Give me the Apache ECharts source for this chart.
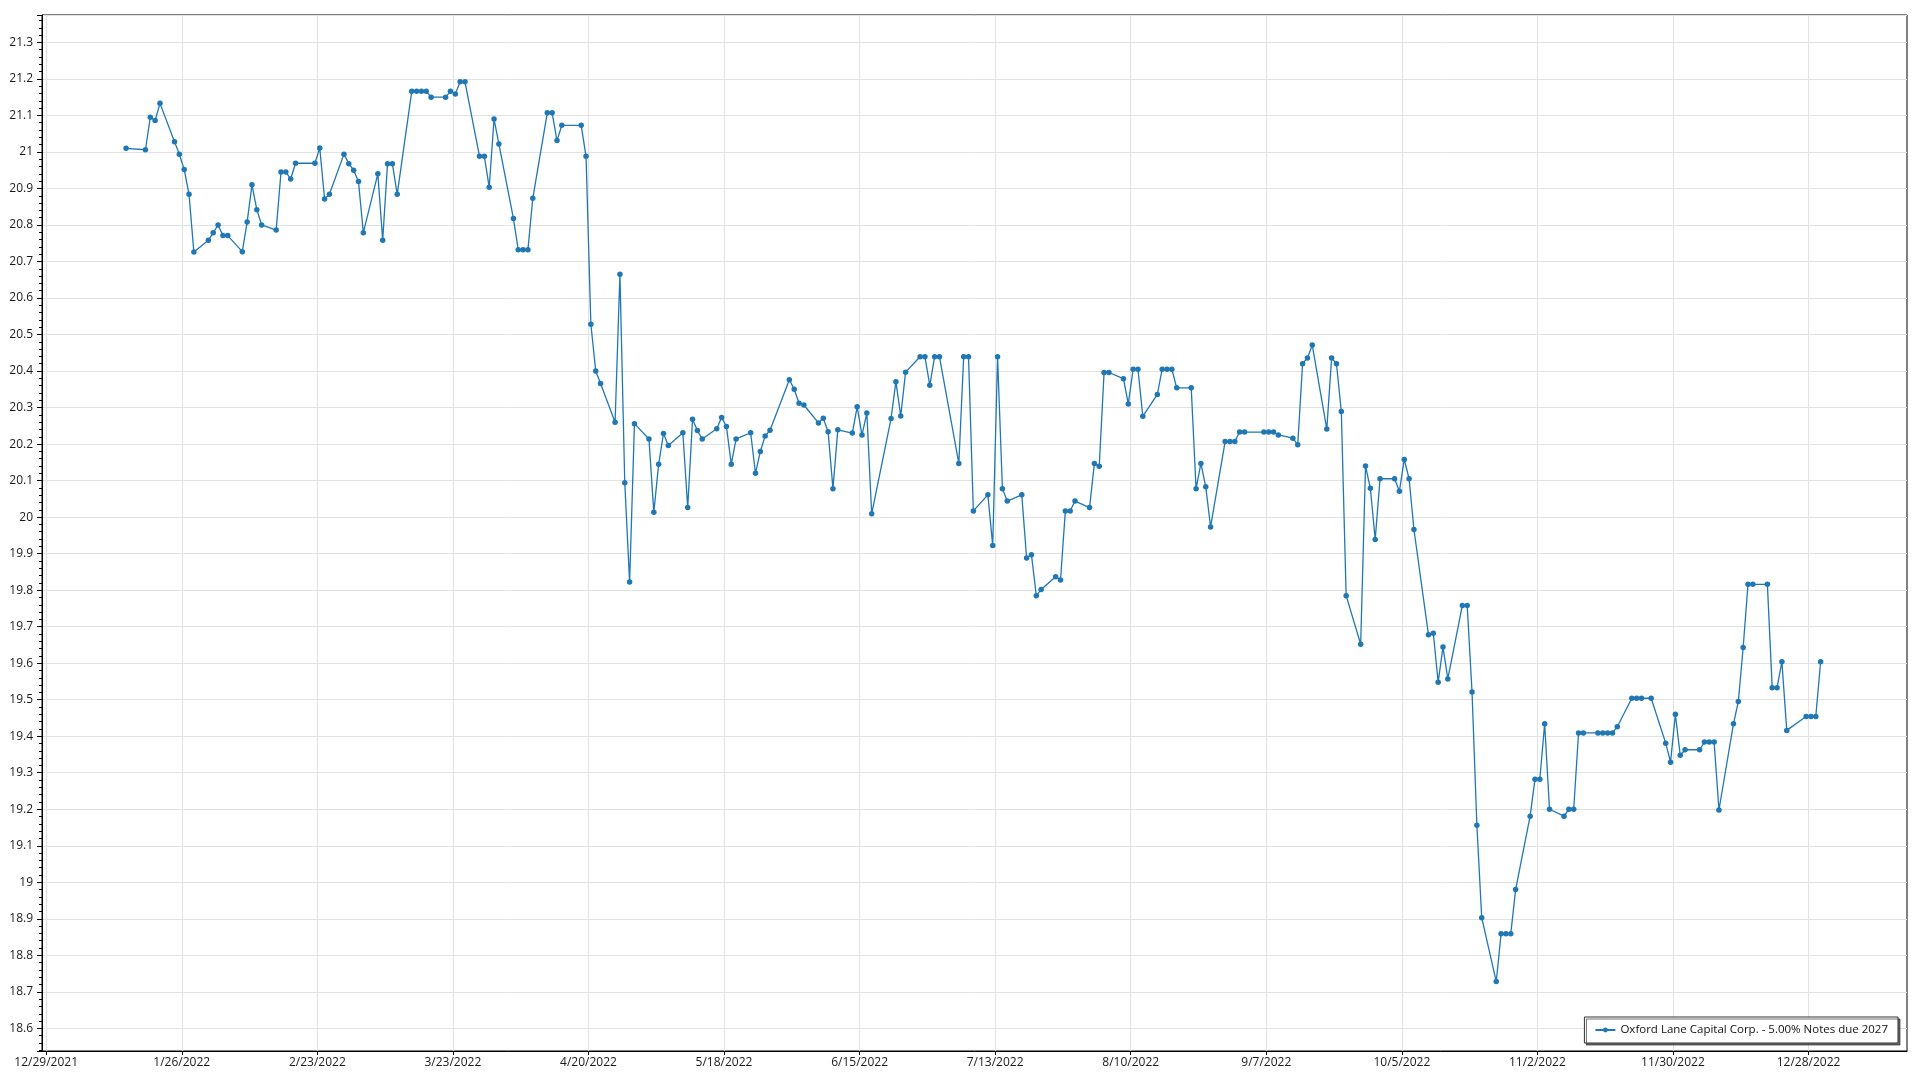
<!DOCTYPE html>
<html><head><meta charset="utf-8">
<script src="https://cdn.jsdelivr.net/npm/echarts@6/dist/echarts.min.js"></script>
<style>html,body{margin:0;padding:0;background:#fff}#chart{width:1920px;height:1080px}</style>
</head><body><div id="chart"></div>
<script>
const seriesName = 'Oxford Lane Capital Corp. - 5.00% Notes due 2027';

const dates = [
'2022-01-14','2022-01-18','2022-01-19','2022-01-20','2022-01-21','2022-01-24','2022-01-25','2022-01-26','2022-01-27','2022-01-28',
'2022-01-31','2022-02-01','2022-02-02','2022-02-03','2022-02-04','2022-02-07','2022-02-08','2022-02-09','2022-02-10','2022-02-11',
'2022-02-14','2022-02-15','2022-02-16','2022-02-17','2022-02-18','2022-02-22','2022-02-23','2022-02-24','2022-02-25','2022-02-28',
'2022-03-01','2022-03-02','2022-03-03','2022-03-04','2022-03-07','2022-03-08','2022-03-09','2022-03-10','2022-03-11','2022-03-14',
'2022-03-15','2022-03-16','2022-03-17','2022-03-18','2022-03-21','2022-03-22','2022-03-23','2022-03-24','2022-03-25','2022-03-28',
'2022-03-29','2022-03-30','2022-03-31','2022-04-01','2022-04-04','2022-04-05','2022-04-06','2022-04-07','2022-04-08','2022-04-11',
'2022-04-12','2022-04-13','2022-04-14','2022-04-18','2022-04-19','2022-04-20','2022-04-21','2022-04-22','2022-04-25','2022-04-26',
'2022-04-27','2022-04-28','2022-04-29','2022-05-02','2022-05-03','2022-05-04','2022-05-05','2022-05-06','2022-05-09','2022-05-10',
'2022-05-11','2022-05-12','2022-05-13','2022-05-16','2022-05-17','2022-05-18','2022-05-19','2022-05-20','2022-05-23','2022-05-24',
'2022-05-25','2022-05-26','2022-05-27','2022-05-31','2022-06-01','2022-06-02','2022-06-03','2022-06-06','2022-06-07','2022-06-08',
'2022-06-09','2022-06-10','2022-06-13','2022-06-14','2022-06-15','2022-06-16','2022-06-17','2022-06-21','2022-06-22','2022-06-23',
'2022-06-24','2022-06-27','2022-06-28','2022-06-29','2022-06-30','2022-07-01','2022-07-05','2022-07-06','2022-07-07','2022-07-08',
'2022-07-11','2022-07-12','2022-07-13','2022-07-14','2022-07-15','2022-07-18','2022-07-19','2022-07-20','2022-07-21','2022-07-22',
'2022-07-25','2022-07-26','2022-07-27','2022-07-28','2022-07-29','2022-08-01','2022-08-02','2022-08-03','2022-08-04','2022-08-05',
'2022-08-08','2022-08-09','2022-08-10','2022-08-11','2022-08-12','2022-08-15','2022-08-16','2022-08-17','2022-08-18','2022-08-19',
'2022-08-22','2022-08-23','2022-08-24','2022-08-25','2022-08-26','2022-08-29','2022-08-30','2022-08-31','2022-09-01','2022-09-02',
'2022-09-06','2022-09-07','2022-09-08','2022-09-09','2022-09-12','2022-09-13','2022-09-14','2022-09-15','2022-09-16','2022-09-19',
'2022-09-20','2022-09-21','2022-09-22','2022-09-23','2022-09-26','2022-09-27','2022-09-28','2022-09-29','2022-09-30','2022-10-03',
'2022-10-04','2022-10-05','2022-10-06','2022-10-07','2022-10-10','2022-10-11','2022-10-12','2022-10-13','2022-10-14','2022-10-17',
'2022-10-18','2022-10-19','2022-10-20','2022-10-21','2022-10-24','2022-10-25','2022-10-26','2022-10-27','2022-10-28','2022-10-31',
'2022-11-01','2022-11-02','2022-11-03','2022-11-04','2022-11-07','2022-11-08','2022-11-09','2022-11-10','2022-11-11','2022-11-14',
'2022-11-15','2022-11-16','2022-11-17','2022-11-18','2022-11-21','2022-11-22','2022-11-23','2022-11-25','2022-11-28','2022-11-29',
'2022-11-30','2022-12-01','2022-12-02','2022-12-05','2022-12-06','2022-12-07','2022-12-08','2022-12-09','2022-12-12','2022-12-13',
'2022-12-14','2022-12-15','2022-12-16','2022-12-19','2022-12-20','2022-12-21','2022-12-22','2022-12-23','2022-12-27','2022-12-28',
'2022-12-29','2022-12-30'
];

const prices = [
21.010,21.006,21.095,21.086,21.133,21.028,20.994,20.952,20.884,20.726,
20.758,20.779,20.800,20.771,20.771,20.727,20.808,20.910,20.842,20.800,
20.786,20.945,20.945,20.926,20.969,20.969,21.011,20.871,20.884,20.994,
20.968,20.950,20.919,20.779,20.940,20.758,20.968,20.968,20.884,21.166,
21.166,21.166,21.166,21.150,21.150,21.166,21.159,21.192,21.192,20.988,
20.988,20.903,21.090,21.022,20.818,20.732,20.732,20.732,20.873,21.107,
21.107,21.031,21.073,21.073,20.988,20.528,20.400,20.366,20.260,20.665,
20.094,19.822,20.256,20.214,20.013,20.145,20.229,20.196,20.231,20.026,
20.268,20.237,20.214,20.242,20.273,20.248,20.145,20.214,20.231,20.120,
20.180,20.222,20.238,20.376,20.350,20.312,20.307,20.258,20.271,20.234,
20.078,20.239,20.230,20.302,20.225,20.285,20.009,20.270,20.371,20.277,
20.397,20.439,20.439,20.361,20.439,20.439,20.147,20.439,20.439,20.017,
20.061,19.922,20.439,20.078,20.044,20.061,19.888,19.897,19.785,19.802,
19.837,19.828,20.017,20.017,20.044,20.026,20.147,20.139,20.396,20.396,
20.379,20.310,20.405,20.405,20.276,20.336,20.405,20.405,20.405,20.354,
20.354,20.078,20.147,20.083,19.973,20.207,20.207,20.207,20.233,20.233,
20.233,20.233,20.233,20.225,20.216,20.198,20.420,20.436,20.471,20.241,
20.436,20.420,20.289,19.785,19.652,20.140,20.079,19.939,20.105,20.105,
20.071,20.158,20.105,19.966,19.678,19.682,19.548,19.644,19.557,19.758,
19.758,19.521,19.156,18.903,18.728,18.859,18.859,18.859,18.980,19.181,
19.282,19.282,19.434,19.200,19.181,19.200,19.200,19.409,19.409,19.409,
19.409,19.409,19.409,19.426,19.504,19.504,19.504,19.504,19.381,19.329,
19.460,19.348,19.363,19.363,19.384,19.384,19.384,19.198,19.434,19.495,
19.643,19.816,19.816,19.816,19.533,19.533,19.604,19.416,19.454,19.454,
19.454,19.604
];

const xTickDates = ['2021-12-29','2022-01-26','2022-02-23','2022-03-23','2022-04-20','2022-05-18','2022-06-15',
  '2022-07-13','2022-08-10','2022-09-07','2022-10-05','2022-11-02','2022-11-30','2022-12-28'];

const DAY = 86400000;
const ts = s => new Date(s + 'T00:00:00').getTime();
const xStart = ts('2021-12-29');
const xMin = xStart - 0.867 * DAY;
const xMax = xStart + 384.34 * DAY;
const yMin = 18.538, yMax = 21.375;

const seriesData = dates.map((d, i) => [ts(d) + DAY / 2, prices[i]]);
const xTicks = xTickDates.map(ts);
const fmtDate = v => { const d = new Date(v); return (d.getMonth() + 1) + '/' + d.getDate() + '/' + d.getFullYear(); };

const FONT = '"Open Sans", "Noto Sans", sans-serif';
const LINE_COLOR = '#1f77b4';
const chart = echarts.init(document.getElementById('chart'), null, {renderer: 'canvas'});
chart.setOption({
  animation: false,
  backgroundColor: '#ffffff',
  grid: {left: 42, right: 13, top: 15, bottom: 29, show: true, borderColor: '#000', borderWidth: 1, containLabel: false},
  legend: {
    data: [seriesName],
    right: 22, bottom: 37,
    padding: [7, 10],
    itemWidth: 20, itemHeight: 6,
    backgroundColor: '#fff',
    borderColor: '#333', borderWidth: 1,
    shadowColor: 'rgba(0,0,0,0.55)', shadowBlur: 0, shadowOffsetX: 2, shadowOffsetY: 2,
    textStyle: {fontFamily: FONT, fontSize: 11.5, color: '#111'}
  },
  xAxis: {
    type: 'value',
    min: xMin, max: xMax,
    axisLine: {show: true, lineStyle: {color: '#000', width: 1}},
    axisTick: {show: true, length: 4, lineStyle: {color: '#000'}, customValues: xTicks},
    axisLabel: {customValues: xTicks, formatter: fmtDate, fontFamily: FONT, fontSize: 12, color: '#1a1a1a', margin: 6, hideOverlap: false},
    splitLine: {show: true, lineStyle: {color: '#e2e2e2', width: 1}},
    minorTick: {show: false}
  },
  yAxis: {
    type: 'value',
    min: yMin, max: yMax,
    splitNumber: 28,
    axisLine: {show: true, lineStyle: {color: '#000', width: 1}},
    axisTick: {show: true, length: 5, lineStyle: {color: '#000'}},
    minorTick: {show: true, splitNumber: 5, length: 3, lineStyle: {color: '#000'}},
    axisLabel: {showMinLabel: false, showMaxLabel: false, fontFamily: FONT, fontSize: 12, color: '#1a1a1a', margin: 9,
      formatter: v => String(Math.round(v * 10) / 10)},
    splitLine: {show: true, lineStyle: {color: '#e2e2e2', width: 1}}
  },
  series: [{
    name: seriesName,
    type: 'line',
    data: seriesData,
    symbol: 'circle',
    symbolSize: 5.5,
    showSymbol: true,
    showAllSymbol: true,
    itemStyle: {color: LINE_COLOR},
    lineStyle: {color: LINE_COLOR, width: 1.3}
  }]
});
</script></body></html>
